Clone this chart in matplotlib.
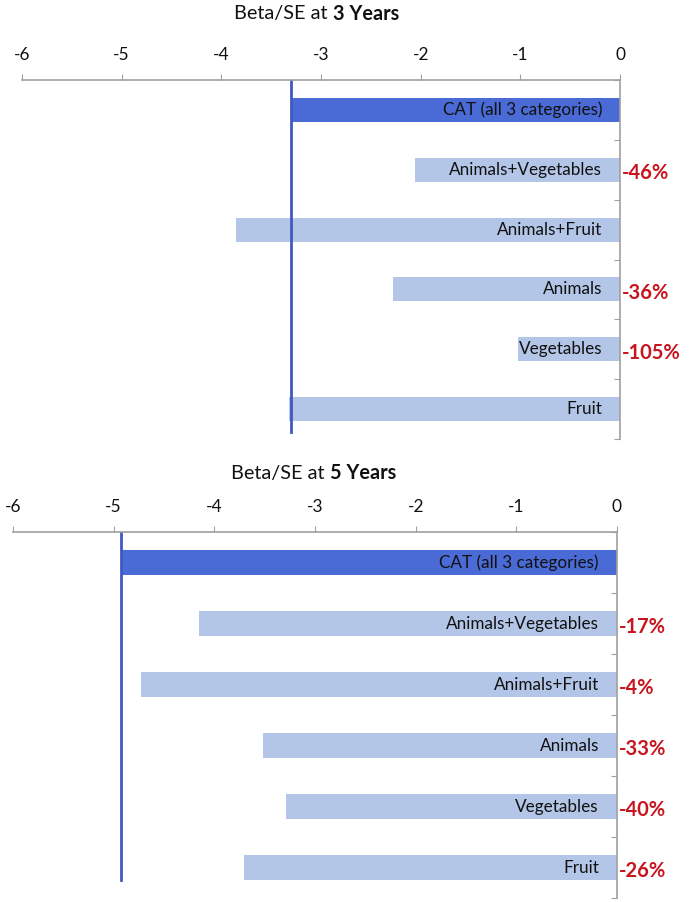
import numpy as np
import matplotlib.pyplot as plt

plt.rcParams['font.family'] = ['Lato', 'DejaVu Sans']

categories = ['CAT (all 3 categories)', 'Animals+Vegetables', 'Animals+Fruit',
              'Animals', 'Vegetables', 'Fruit']
beta_se_3y = [-3.30, -2.06, -3.85, -2.28, -1.02, -3.32]
beta_se_5y = [-4.93, -4.15, -4.73, -3.52, -3.29, -3.71]
pct_3y = ['', '-46%', '', '-36%', '-105%', '']
pct_5y = ['', '-17%', '-4%', '-33%', '-40%', '-26%']
x_ticks = [-6, -5, -4, -3, -2, -1, 0]

dark_blue = '#4a6bd6'
light_blue = '#b4c6e7'
line_blue = '#4058c0'
red = '#c8141e'
grey = '#a0a0a0'

fig = plt.figure(figsize=(6.89, 9.02), dpi=100)
ax1 = fig.add_axes([0.0319, 0.5133, 0.868, 0.398])
ax2 = fig.add_axes([0.0189, 0.0044, 0.8766, 0.4058])


def draw_panel(ax, vals, pcts, years, line_ymin, title_x, title_y):
    y = np.arange(len(categories))
    colors = [dark_blue] + [light_blue] * (len(categories) - 1)
    ax.barh(y, vals, height=0.4, color=colors)
    ax.set_xlim(-6, 0)
    ax.set_ylim(len(categories) - 0.5, -0.5)
    ax.axvline(vals[0], ymin=line_ymin, ymax=1, color=line_blue, lw=2)
    for i, (name, p) in enumerate(zip(categories, pcts)):
        ax.text(-0.18, i, name, ha='right', va='center', fontsize=12.3,
                color='#111111')
        if p:
            ax.text(0.02, i + 0.06, p, ha='left', va='center', fontsize=14.5,
                    fontweight='bold', color=red, clip_on=False)
    ax.xaxis.tick_top()
    ax.set_xticks(x_ticks)
    ax.set_xticklabels([str(t) for t in x_ticks], fontsize=12.5)
    ax.tick_params(axis='x', direction='out', length=4, color=grey,
                   pad=8, labelcolor='#111111')
    ax.yaxis.tick_right()
    ax.set_yticks(np.arange(len(categories) + 1) - 0.5)
    ax.set_yticklabels([])
    ax.tick_params(axis='y', direction='in', length=4, color=grey)
    for s in ['left', 'bottom']:
        ax.spines[s].set_visible(False)
    for s in ['top', 'right']:
        ax.spines[s].set_color(grey)
        ax.spines[s].set_linewidth(1.2)
    fig.text(title_x, title_y, 'Beta/SE at ', ha='right', va='center',
             fontsize=14.3, color='#111111')
    fig.text(title_x, title_y, years, ha='left', va='center',
             fontsize=14.3, fontweight='bold', color='#111111')


draw_panel(ax1, beta_se_3y, pct_3y, '3 Years', 0.02, 333 / 689, 1 - 14 / 902)
draw_panel(ax2, beta_se_5y, pct_5y, '5 Years', 0.05, 330 / 689, 1 - 473 / 902)

fig.savefig('out.png', dpi=100)
